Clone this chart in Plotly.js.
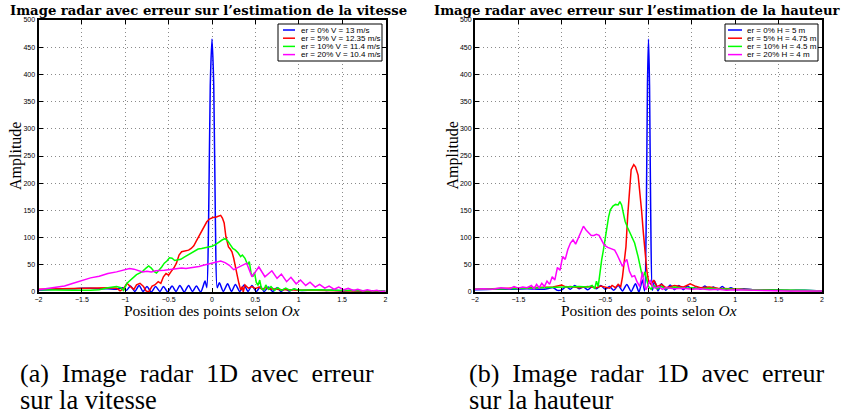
<!DOCTYPE html>
<html><head><meta charset="utf-8">
<script src="https://cdn.plot.ly/plotly-3.0.1.min.js"></script>
<style>html,body{margin:0;padding:0;background:#fff}#chart{width:850px;height:415px}</style>
</head><body><div id="chart"></div>
<script>
// ---- Left panel: error on velocity ----
const vitX0 = [-2,-1.9,-1.8,-1.7,-1.6,-1.5,-1.4,-1.3,-1.2,-1.1,-1.03,-0.985,-0.94,-0.89,-0.84,-0.795,-0.75,-0.7,-0.65,-0.6,-0.56,-0.51,-0.46,-0.415,-0.37,-0.32,-0.27,-0.225,-0.18,-0.13,-0.08,-0.06,-0.04,-0.02,0,0.02,0.04,0.06,0.085,0.13,0.18,0.225,0.27,0.32,0.37,0.415,0.46,0.51,0.56,0.6,0.65,0.7,0.75,0.795,0.84,0.89,0.94,1,1.1,1.2,1.3,1.4,1.5,1.6,1.7,1.8,1.9,2];
const vitY0 = [3,4,5,6,6,7,7,6,6,5,8,3,11,1,12,1,10,0,10,1,10,0,11,1,12,0,12,1,11,0,20,8,120,380,465,380,120,8,17,1,15,1,14,1,13,1,12,1,10,1,9,1,8,1,6,2,5,3,3,4,3,3,2,3,2,2,2,2];
const vitX5 = [-2,-1.8,-1.6,-1.4,-1.2,-1.1,-1.06,-1.02,-0.98,-0.94,-0.9,-0.87,-0.83,-0.79,-0.76,-0.73,-0.69,-0.66,-0.62,-0.59,-0.56,-0.53,-0.5,-0.47,-0.44,-0.41,-0.38,-0.35,-0.31,-0.27,-0.24,-0.21,-0.18,-0.14,-0.1,-0.06,-0.03,0.01,0.05,0.08,0.1,0.12,0.14,0.16,0.19,0.21,0.23,0.25,0.27,0.29,0.31,0.33,0.35,0.36,0.38,0.42,0.46,0.5,0.54,0.58,0.62,0.66,0.7,0.8,0.9,1,1.2,1.4,1.6,1.8,2];
const vitY5 = [5,6,7,8,8,7,2,6,16,10,5,13,16,10,2,0,11,13,19,16,28,34,31,38,44,53,68,74,75,77,80,85,94,105,117,129,134,137,138,139,141,136,127,102,83,79,74,62,44,31,16,4,10,0,13,7,10,6,9,5,8,5,6,4,4,3,3,2,2,2,1];
const vitX10 = [-2,-1.8,-1.6,-1.4,-1.3,-1.2,-1.1,-1.05,-1.02,-0.98,-0.94,-0.9,-0.87,-0.83,-0.8,-0.76,-0.73,-0.7,-0.67,-0.64,-0.61,-0.58,-0.55,-0.52,-0.49,-0.46,-0.43,-0.4,-0.36,-0.32,-0.28,-0.24,-0.2,-0.16,-0.12,-0.08,-0.04,0,0.04,0.08,0.12,0.15,0.18,0.21,0.24,0.27,0.3,0.33,0.35,0.38,0.41,0.43,0.45,0.47,0.49,0.51,0.53,0.55,0.57,0.6,0.62,0.65,0.68,0.72,0.76,0.8,0.85,0.9,0.95,1,1.2,1.4,1.6,1.8,2];
const vitY10 = [4,3,3,3,4,8,10,8,3,16,22,28,32,35,38,44,48,44,38,35,40,46,53,57,63,62,58,59,60,64,68,72,76,79,80,81,82,84,87,92,96,98,94,87,80,77,72,65,68,62,50,56,35,28,36,18,12,22,6,4,13,5,10,3,8,3,7,3,6,3,4,3,3,2,2];
const vitX20 = [-2,-1.9,-1.8,-1.7,-1.6,-1.5,-1.4,-1.3,-1.2,-1.1,-1,-0.95,-0.9,-0.85,-0.8,-0.75,-0.7,-0.65,-0.6,-0.55,-0.5,-0.45,-0.4,-0.35,-0.3,-0.25,-0.2,-0.15,-0.1,-0.05,0,0.05,0.1,0.15,0.2,0.25,0.3,0.35,0.4,0.46,0.54,0.61,0.69,0.75,0.8,0.86,0.91,0.97,1.02,1.08,1.13,1.19,1.24,1.3,1.35,1.41,1.46,1.52,1.57,1.63,1.68,1.74,1.79,1.85,1.9,1.95,2];
const vitY20 = [4,6,8,11,16,21,26,29,34,37,41,43,42,39,37,38,37,39,39,40,41,42,43,44,43,44,46,47,49,51,53,55,57,54,49,41,45,50,53,28,46,28,39,25,33,19,27,15,22,12,18,9,14,7,11,5,9,4,7,3,5,2,4,2,3,1,2];

// ---- Right panel: error on height ----
const hautX0 = [-2,-1.8,-1.6,-1.4,-1.2,-1.1,-1.05,-1,-0.95,-0.9,-0.85,-0.8,-0.75,-0.7,-0.65,-0.6,-0.55,-0.5,-0.45,-0.4,-0.35,-0.3,-0.25,-0.2,-0.15,-0.11,-0.07,-0.045,-0.025,-0.012,0,0.012,0.025,0.045,0.07,0.11,0.15,0.2,0.25,0.3,0.35,0.4,0.45,0.5,0.55,0.6,0.65,0.7,0.75,0.8,0.85,0.9,0.95,1,1.1,1.2,1.4,1.6,1.8,2];
const hautY0 = [4,5,5,6,5,8,3,4,10,5,12,6,9,4,10,6,12,5,10,3,12,2,14,1,15,0,22,2,150,380,465,380,150,3,20,2,15,3,13,4,12,4,11,5,10,5,11,5,9,4,10,4,8,4,6,4,4,3,3,2];
const hautX5 = [-2,-1.8,-1.6,-1.4,-1.2,-1.1,-1,-0.95,-0.9,-0.8,-0.7,-0.6,-0.55,-0.5,-0.45,-0.42,-0.38,-0.35,-0.32,-0.3,-0.28,-0.26,-0.24,-0.22,-0.2,-0.17,-0.15,-0.12,-0.1,-0.08,-0.06,-0.04,-0.02,0,0.03,0.06,0.1,0.15,0.2,0.3,0.4,0.48,0.55,0.6,0.7,0.8,0.9,1,1.2,1.4,1.6,1.8,2];
const hautY5 = [5,6,7,7,8,9,13,9,10,8,10,8,11,9,7,12,8,14,10,28,55,83,140,194,225,234,230,215,185,150,110,70,40,20,14,22,10,14,8,12,9,15,10,8,9,7,6,5,4,3,3,2,2];
const hautX10 = [-2,-1.8,-1.6,-1.4,-1.2,-1,-0.9,-0.8,-0.7,-0.65,-0.62,-0.6,-0.58,-0.56,-0.54,-0.52,-0.5,-0.48,-0.46,-0.44,-0.41,-0.38,-0.35,-0.33,-0.31,-0.29,-0.27,-0.24,-0.2,-0.16,-0.12,-0.08,-0.06,-0.04,-0.02,0,0.03,0.06,0.1,0.15,0.2,0.3,0.4,0.5,0.6,0.7,0.8,0.9,1,1.2,1.4,1.6,1.8,2];
const hautY10 = [5,5,6,7,8,9,9,10,9,12,6,20,10,40,59,77,100,120,138,151,158,161,160,166,160,145,130,118,105,90,65,35,28,37,22,10,5,12,6,10,6,9,7,8,6,7,6,5,5,4,4,3,3,2];
const hautX20 = [-2,-1.9,-1.8,-1.7,-1.6,-1.55,-1.5,-1.45,-1.4,-1.35,-1.32,-1.29,-1.26,-1.23,-1.2,-1.17,-1.14,-1.11,-1.08,-1.05,-1.02,-0.99,-0.96,-0.93,-0.9,-0.87,-0.84,-0.81,-0.78,-0.75,-0.72,-0.69,-0.66,-0.63,-0.6,-0.57,-0.54,-0.51,-0.47,-0.43,-0.39,-0.36,-0.33,-0.3,-0.27,-0.25,-0.22,-0.19,-0.16,-0.13,-0.1,-0.07,-0.05,-0.03,0,0.02,0.05,0.08,0.12,0.16,0.2,0.3,0.4,0.5,0.6,0.7,0.8,0.9,1,1.2,1.4,1.6,1.8,2];
const hautY20 = [5,6,5,8,6,10,7,9,8,12,6,14,8,16,10,20,14,28,22,45,40,65,60,78,90,96,88,100,112,121,114,108,104,104,106,104,94,86,82,80,77,68,58,47,56,60,38,28,30,18,10,37,12,4,15,22,10,7,10,5,8,6,7,5,6,4,5,3,4,3,3,2,2,2];

const seriesColors = ['#0000ff','#ff0000','#00ff00','#ff00ff'];
const vitLabels = ['er = 0% V = 13 m/s','er = 5% V = 12.35 m/s','er = 10% V = 11.4 m/s','er = 20% V = 10.4 m/s'];
const hautLabels = ['er = 0% H = 5 m','er = 5% H = 4.75 m','er = 10% H = 4.5 m','er = 20% H = 4 m'];
const panelTitles = ['Image radar avec erreur sur l’estimation de la vitesse','Image radar avec erreur sur l’estimation de la hauteur'];
const yTitle = 'Amplitude';
const xTitle = 'Position des points selon <i>Ox</i>';
const captions = [['(a) Image radar 1D avec erreur','sur la vitesse'],['(b) Image radar 1D avec erreur','sur la hauteur']];
const xRange = [-2,2], yRange = [0,500];

const W = 850, H = 415;
const px = v => v / W, py = v => 1 - v / H;
const panels = [
  {x0:38.5, x1:385.5, titleX:208, capX:18, legX0:278, legX1:382, lineX0:283, lineX1:295, textX:300, labels:vitLabels, series:[[vitX0,vitY0],[vitX5,vitY5],[vitX10,vitY10],[vitX20,vitY20]]},
  {x0:475, x1:822, titleX:637, capX:467, legX0:725, legX1:818, lineX0:728, lineX1:742, textX:746, labels:hautLabels, series:[[hautX0,hautY0],[hautX5,hautY5],[hautX10,hautY10],[hautX20,hautY20]]}
];
const plotTop = 20, plotBot = 292;
const legTop = 24, legBot = 61, legRows = [30, 38.2, 46.4, 54.6];

const serif = "'Liberation Serif', 'Times New Roman', serif";
const sans = "'Liberation Sans', Arial, sans-serif";

// justified first caption line: widen inter-word spaces
const justify = s => s.split(' ').join(' \u00a0');

const traces = [];
const layout = {
  width: W, height: H, margin: {l:0, r:0, t:0, b:0},
  paper_bgcolor: '#fff', plot_bgcolor: '#fff', showlegend: false,
  annotations: [], shapes: []
};

function axisBase() {
  return {ticks:'inside', ticklen:4, tickwidth:1, tickcolor:'#000', mirror:'allticks',
    showline:true, linecolor:'#000', linewidth:2, showgrid:true, gridcolor:'#8a8a8a', gridwidth:1,
    griddash:'1px,3px', zeroline:false, fixedrange:true,
    tickfont:{family:sans, size:7, color:'#000'}};
}

panels.forEach((p, k) => {
  const xa = k === 0 ? 'x' : 'x2', ya = k === 0 ? 'y' : 'y2';
  p.series.forEach((s, i) => {
    const line = {color:seriesColors[i], width:1.5};
    if (i === 0) { line.shape = 'spline'; line.smoothing = 0.7; }
    traces.push({x:s[0], y:s[1], xaxis:xa, yaxis:ya, mode:'lines', name:p.labels[i], line:line, hoverinfo:'skip'});
  });
  const xk = k === 0 ? 'xaxis' : 'xaxis2', yk = k === 0 ? 'yaxis' : 'yaxis2';
  layout[xk] = Object.assign(axisBase(), {domain:[px(p.x0), px(p.x1)], anchor:ya, range:xRange, tick0:-2, dtick:0.5});
  layout[yk] = Object.assign(axisBase(), {domain:[py(plotBot), py(plotTop)], anchor:xa, range:yRange, tick0:0, dtick:50});

  const cx = (p.x0 + p.x1) / 2;
  layout.annotations.push({xref:'paper', yref:'paper', x:px(p.titleX), y:py(10.5), xanchor:'center', yanchor:'middle',
    text:'<b>' + panelTitles[k] + '</b>', showarrow:false, font:{family:"'DejaVu Serif', serif", size:13.2, color:'#000'}});
  layout.annotations.push({xref:'paper', yref:'paper', x:px(p.x0 - 22.5), y:py((plotTop + plotBot) / 2), xanchor:'center', yanchor:'middle',
    text:yTitle, textangle:-90, showarrow:false, font:{family:serif, size:16, color:'#000'}});
  layout.annotations.push({xref:'paper', yref:'paper', x:px(cx), y:py(310.5), xanchor:'center', yanchor:'middle',
    text:xTitle, showarrow:false, borderpad:0, font:{family:serif, size:15.5, color:'#000'}});
  layout.annotations.push({xref:'paper', yref:'paper', x:px(p.capX), y:py(373), xanchor:'left', yanchor:'middle',
    text:justify(captions[k][0]), showarrow:false, font:{family:serif, size:26, color:'#000'}});
  layout.annotations.push({xref:'paper', yref:'paper', x:px(p.capX), y:py(400), xanchor:'left', yanchor:'middle',
    text:captions[k][1], showarrow:false, font:{family:serif, size:26.5, color:'#000'}});

  // legend box
  layout.shapes.push({type:'rect', xref:'paper', yref:'paper', x0:px(p.legX0), x1:px(p.legX1), y0:py(legBot), y1:py(legTop),
    line:{color:'#000', width:1}, fillcolor:'#fff', layer:'above'});
  p.labels.forEach((lab, i) => {
    layout.shapes.push({type:'line', xref:'paper', yref:'paper', x0:px(p.lineX0), x1:px(p.lineX1), y0:py(legRows[i]), y1:py(legRows[i]),
      line:{color:seriesColors[i], width:1.5}, layer:'above'});
    layout.annotations.push({xref:'paper', yref:'paper', x:px(p.textX), y:py(legRows[i]), xanchor:'left', yanchor:'middle',
      text:lab, showarrow:false, borderpad:0, font:{family:sans, size:8, color:'#000'}});
  });
});

Plotly.newPlot('chart', traces, layout, {staticPlot:true, displayModeBar:false});
</script>
</body></html>
